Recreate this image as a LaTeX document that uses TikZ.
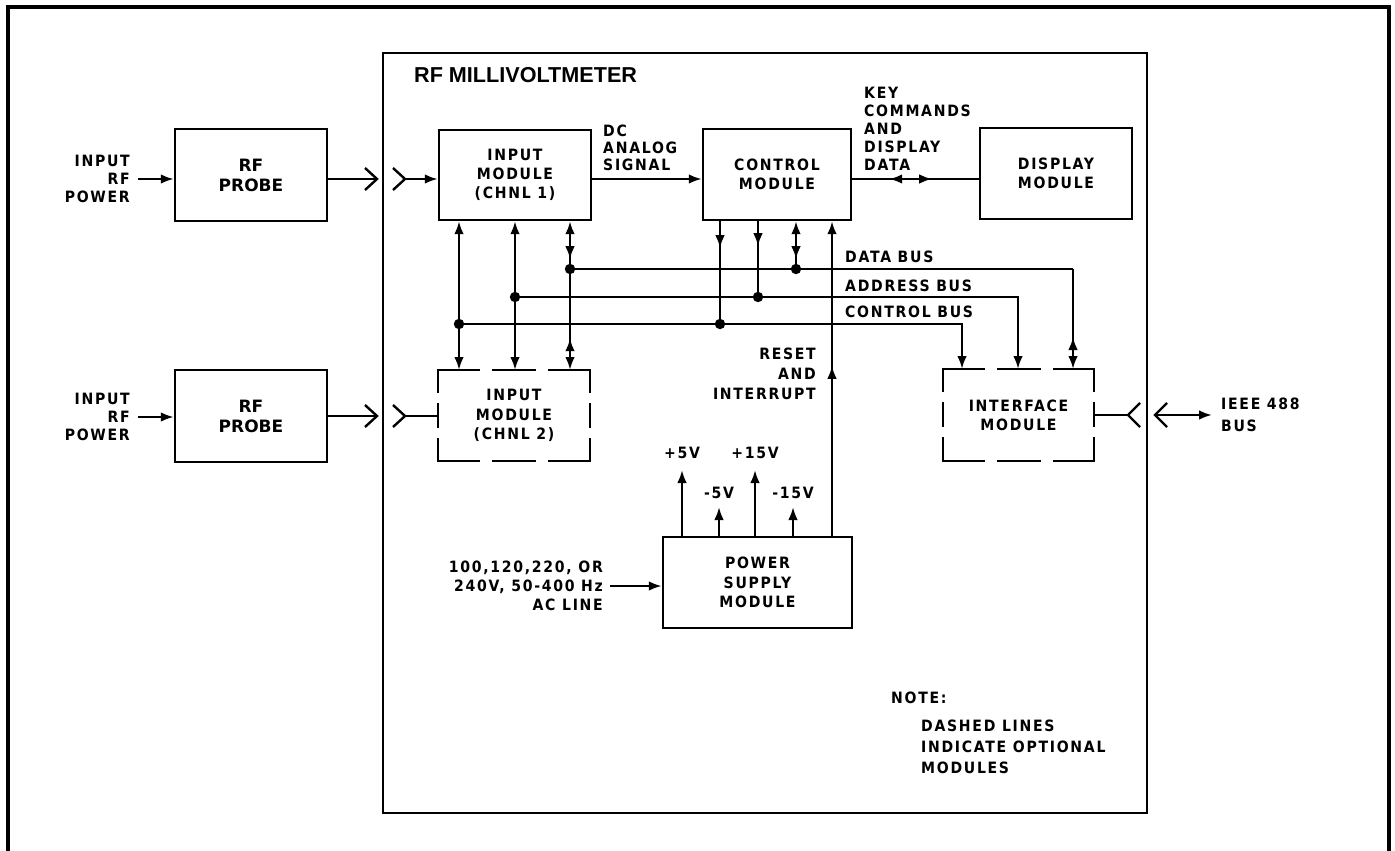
\documentclass[tikz,border=0pt]{standalone}
\usepackage{fontspec}
\newfontfamily\labfam{DejaVu Sans}[LetterSpace=11, FakeStretch=0.9]
\newfontfamily\probefam{DejaVu Sans}
\newfontfamily\titlefam{Liberation Sans}
\usetikzlibrary{arrows.meta,decorations.markings}
\begin{document}
\begin{tikzpicture}[x=0.5pt,y=-0.5pt,
  line width=1.2pt,
  >={Latex[length=6.5pt,width=4.8pt]},
  lab/.style={inner sep=0pt, font=\labfam\bfseries\fontsize{7.8}{#1}\selectfont},
  lab/.default=9.4pt,
  box/.style={draw, inner sep=0pt, align=center, font=\labfam\bfseries\fontsize{7.8}{9.6}\selectfont},
  probebox/.style={draw, inner sep=0pt, align=center, font=\probefam\bfseries\fontsize{8.5}{10}\selectfont},
  optbox/.style={draw=none, outer sep=0pt, inner sep=0pt, align=center, font=\labfam\bfseries\fontsize{7.8}{9.6}\selectfont},
  hdash/.style={line cap=rect, dash pattern=on 20.5pt off 7.2pt},
  vdash/.style={line cap=rect, dash pattern=on 11pt off 6.2pt},
  mk/.style={postaction={decorate,decoration={markings,#1}}}
]
\useasboundingbox (0,0) rectangle (1395,850);
% frames
\draw[line width=1.6pt] (8,860) -- (8,7) -- (1389,7) -- (1389,860);
\draw[line width=1.4pt] (383,53) rectangle (1147,813);
\node[anchor=west, inner sep=0pt, font=\titlefam\bfseries\fontsize{10.8}{12}\selectfont] (title) at (413,75) {RF MILLIVOLTMETER};

% boxes
\node[probebox, minimum width=76pt, minimum height=46pt] (probe1) at (251,175) {RF\\PROBE};
\node[probebox, minimum width=76pt, minimum height=46pt] (probe2) at (251,416) {RF\\PROBE};
\node[box, minimum width=76pt, minimum height=45pt] (in1) at (515,175) {INPUT\\MODULE\\(CHNL 1)};
\node[optbox, minimum width=76pt, minimum height=45.5pt] (in2) at (514,415.5) {INPUT\\MODULE\\(CHNL 2)};
\node[box, minimum width=74pt, minimum height=45.5pt] (ctrl) at (777,174.5) {CONTROL\\MODULE};
\node[box, minimum width=76pt, minimum height=45.5pt] (disp) at (1056,173.5) {DISPLAY\\MODULE};
\node[optbox, minimum width=75.5pt, minimum height=46pt] (iface) at (1018.5,415) {INTERFACE\\MODULE};
\node[box, minimum width=94.5pt, minimum height=45.5pt] (psu) at (757.5,582.5) {POWER\\SUPPLY\\MODULE};

\foreach \n in {in2,iface}{
  \draw[hdash] (\n.north west) -- (\n.north east);
  \draw[hdash] (\n.south west) -- (\n.south east);
  \draw[vdash] (\n.north west) -- (\n.south west);
  \draw[vdash] (\n.north east) -- (\n.south east);
}

% labels
\node[lab=9pt, anchor=east, align=right] (ip1) at (131,179) {INPUT\\RF\\POWER};
\node[lab=9pt, anchor=east, align=right] (ip2) at (131,417) {INPUT\\RF\\POWER};
\node[lab=8.5pt, anchor=west, align=left] (dc) at (602,148) {DC\\ANALOG\\SIGNAL};
\node[lab=9pt, anchor=west, align=left] (key) at (863,129) {KEY\\COMMANDS\\AND\\DISPLAY\\DATA};
\node[lab, anchor=west] (lbdata) at (844,257) {DATA BUS};
\node[lab, anchor=west] (lbaddr) at (844,286) {ADDRESS BUS};
\node[lab, anchor=west] (lbctrl) at (844,312) {CONTROL BUS};
\node[lab=10pt, anchor=east, align=right] (rst) at (817,374) {RESET\\AND\\INTERRUPT};
\node[lab=9.5pt, anchor=east, align=right] (ac) at (604,586) {100,120,220, OR\\240V, 50-400 Hz\\AC LINE};
\node[lab=11pt, anchor=west, align=left] (ieee) at (1220,415) {IEEE 488\\BUS};
\node[lab] (v5p) at (682,453) {+5V};
\node[lab] (v15p) at (755,453) {+15V};
\node[lab] (v5m) at (719,493) {-5V};
\node[lab] (v15m) at (793,493) {-15V};
\node[lab, anchor=west] (note) at (890,698) {NOTE:};
\node[lab=10.5pt, anchor=west, align=left] (notebody) at (920,747) {DASHED LINES\\INDICATE OPTIONAL\\MODULES};

% input side connectors
\coordinate (o1) at (377,179);
\coordinate (f1) at (405,179);
\coordinate (o2) at (377,416);
\coordinate (f2) at (405,416);
\draw[->] ([xshift=3.5pt]ip1.east) -- (ip1.east -| probe1.west);
\draw[->] ([xshift=3.5pt]ip2.east) -- (ip2.east -| probe2.west);
\draw (probe1.east |- o1) -- (o1);
\draw (probe2.east |- o2) -- (o2);
\draw (o1) ++(-12,-11) -- (o1) -- ++(-12,11);
\draw (o2) ++(-12,-11) -- (o2) -- ++(-12,11);
\draw (f1) ++(-12,-11) -- (f1) -- ++(-12,11);
\draw (f2) ++(-12,-11) -- (f2) -- ++(-12,11);
\draw[->] (f1) -- (f1 -| in1.west);
\draw (f2) -- (f2 -| in2.west);

% signal connectors
\coordinate (s1) at ([yshift=-2pt]in1.east);
\coordinate (s2) at (ctrl.east |- s1);
\draw[->] (s1) -- (s1 -| ctrl.west);
\draw[mk={mark=at position 18.5pt with {\arrowreversed{>}}, mark=at position 40pt with {\arrow{>}}}]
  (s2) -- (s2 -| disp.west);

% bus junctions
\coordinate (dA1) at (570,269);
\coordinate (dB1) at (515,297);
\coordinate (dC1) at (459,324);
\coordinate (dA2) at (796,269);
\coordinate (dB2) at (758,297);
\coordinate (dC2) at (720,324);
\coordinate (cA) at (1073,269);
\coordinate (cB) at (1018,297);
\coordinate (cC) at (962,324);
\coordinate (rx) at (832,0);

% buses
\draw (dA1) -- (cA);
\draw[->, mk={mark=at position -16pt with {\arrowreversed{>}}}] (cA) -- (cA |- iface.north);
\draw[->] (dB1) -- (cB) -- (cB |- iface.north);
\draw[->] (dC1) -- (cC) -- (cC |- iface.north);

% input module verticals
\draw[<->] (in1.south -| dC1) -- (in2.north -| dC1);
\draw[<->] (in1.south -| dB1) -- (in2.north -| dB1);
\draw[<->, mk={mark=at position 19pt with {\arrow{>}}, mark=at position 58.5pt with {\arrowreversed{>}}}]
  (in1.south -| dA1) -- (in2.north -| dA1);

% control module verticals
\draw[mk={mark=at position 13.5pt with {\arrow{>}}}] (ctrl.south -| dC2) -- (dC2);
\draw[mk={mark=at position 12.5pt with {\arrow{>}}}] (ctrl.south -| dB2) -- (dB2);
\draw[<-, mk={mark=at position 19pt with {\arrow{>}}}] (ctrl.south -| dA2) -- (dA2);
\draw[->, mk={mark=at position 85pt with {\arrow{>}}}] (psu.north -| rx) -- (ctrl.south -| rx);

\foreach \d in {dA1,dB1,dC1,dA2,dB2,dC2} \fill (\d) circle (2.6pt);

% power supply
\draw[->] ([xshift=3pt]ac.east) -- (ac.east -| psu.west);
\draw[->] (psu.north -| v5p) -- ([yshift=-5pt]v5p.south);
\draw[->] (psu.north -| v15p) -- ([yshift=-5pt]v15p.south);
\draw[->] (psu.north -| v5m) -- ([yshift=-3.5pt]v5m.south);
\draw[->] (psu.north -| v15m) -- ([yshift=-3.5pt]v15m.south);

% interface side
\coordinate (f3) at (1128,415);
\coordinate (o3) at (1155,415);
\draw (iface.east |- f3) -- (f3);
\draw (f3) ++(12,-12) -- (f3) -- ++(12,12);
\draw (o3) ++(12,-12) -- (o3) -- ++(12,12);
\draw[->] (o3) -- ([xshift=-4pt]ieee.west);
\end{tikzpicture}
\end{document}
